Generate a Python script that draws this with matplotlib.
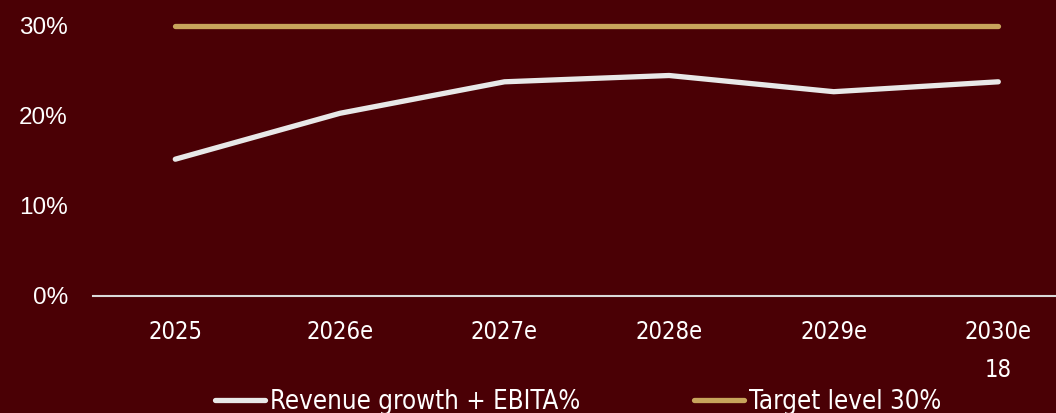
import matplotlib
matplotlib.use("Agg")
import matplotlib.pyplot as plt
from matplotlib.ticker import FuncFormatter

# data
years = ["2025", "2026e", "2027e", "2028e", "2029e", "2030e"]
rev_growth_ebita = [0.152, 0.203, 0.238, 0.245, 0.227, 0.238]
target_level = [0.30, 0.30, 0.30, 0.30, 0.30, 0.30]
page_number = "18"

bg = "#4a0005"
white = "#e8e8e8"
gold = "#c8a45c"
cond = {"family": "DejaVu Sans", "stretch": "condensed"}

plt.rcParams["font.family"] = ["Liberation Sans", "DejaVu Sans"]

fig = plt.figure(figsize=(10.56, 4.13), dpi=100)
fig.patch.set_facecolor(bg)

# axes runs past the right edge so each year gets an equal band
ax = fig.add_axes([93 / 1056, 1 - 296 / 413, 6 * 164.6 / 1056, 270 / 413])
ax.set_facecolor(bg)

x = list(range(len(years)))
l1, = ax.plot(x, rev_growth_ebita, color=white, lw=3.8, solid_capstyle="round",
              solid_joinstyle="round", clip_on=False, zorder=3)
l2, = ax.plot(x, target_level, color=gold, lw=3.8, solid_capstyle="round",
              clip_on=False, zorder=3)

ax.set_xlim(-0.5, 5.5)
ax.set_ylim(0, 0.30)
ax.set_yticks([0, 0.1, 0.2, 0.3])
ax.yaxis.set_major_formatter(FuncFormatter(lambda v, p: f"{v:.0%}"))
ax.set_xticks(x)
ax.set_xticklabels(years, fontdict=cond)

for s in ["top", "right", "left"]:
    ax.spines[s].set_visible(False)
ax.spines["bottom"].set_color("#d9d9d9")
ax.spines["bottom"].set_linewidth(1.5)

ax.tick_params(axis="y", length=0, pad=18, labelsize=17.5, labelcolor="white")
ax.tick_params(axis="x", length=0, pad=17, labelsize=17, labelcolor="white")

fig.text(998 / 1056, 1 - 370 / 413, page_number, color="white", fontsize=17,
         ha="center", va="center", **cond)

leg = fig.legend([l1, l2], ["Revenue growth + EBITA%", "Target level 30%"],
                 loc="center", bbox_to_anchor=(578 / 1056, 1 - 402 / 413),
                 ncol=2, frameon=False, handlelength=1.95, handletextpad=0.2,
                 columnspacing=4.4, prop={**cond, "size": 18.5})
for t in leg.get_texts():
    t.set_color("white")

fig.savefig("out.png", dpi=100, facecolor=bg)
